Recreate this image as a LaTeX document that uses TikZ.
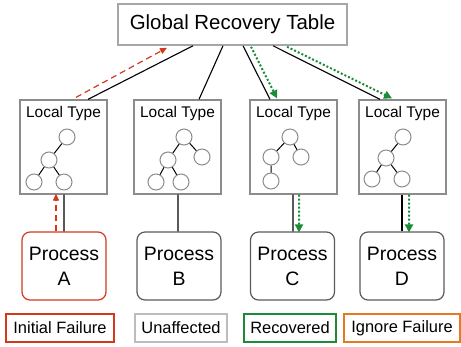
\documentclass[tikz,border=0pt]{standalone}
\usepackage{fontspec}
\setmainfont{Liberation Sans}
\usetikzlibrary{arrows.meta,calc}
\definecolor{gborder}{HTML}{A6A6A6}
\definecolor{lborder}{HTML}{8C8C8C}
\definecolor{pborder}{HTML}{5A5A5A}
\definecolor{redc}{HTML}{D4371C}
\definecolor{greenc}{HTML}{1B8C35}
\definecolor{orangec}{HTML}{E8781E}
\definecolor{ugray}{HTML}{BDBDBD}
\begin{document}
\begin{tikzpicture}[x=1bp,y=-1bp,
  globalbox/.style={draw=gborder,line width=1.5bp,minimum width=229bp,minimum height=41bp,inner sep=0pt,font=\fontsize{20.5}{24}\selectfont},
  localbox/.style={draw=lborder,line width=1.3bp,minimum width=87bp,minimum height=94bp,inner sep=0pt},
  loctext/.style={font=\fontsize{15.5}{18}\selectfont,inner sep=0pt},
  procbox/.style={draw=pborder,line width=1.2bp,rounded corners=8bp,minimum width=84bp,minimum height=68bp,inner sep=0pt,align=center,font=\fontsize{19.5}{25}\selectfont},
  legbox/.style={line width=1.5bp,minimum height=28bp,inner sep=0pt,font=\fontsize{16.5}{20}\selectfont},
  tnode/.style={circle,draw=lborder,fill=white,line width=1bp,minimum size=16bp,inner sep=0pt},
  tedge/.style={black,line width=1bp},
  link/.style={black,line width=1.1bp},
  failarrow/.style={redc,line width=1.2bp,dash pattern=on 6bp off 4bp,-{Triangle[length=7bp,width=6bp]}},
  recarrow/.style={greenc,line width=2bp,dash pattern=on 2bp off 2bp,-{Triangle[length=8bp,width=8bp]}}
]
\useasboundingbox (0,0) rectangle (461,346);

\node[globalbox] (g) at (232.5,24.5) {Global Recovery Table};

\node[localbox] (l1) at (63.5,147) {};
\node[localbox] (l2) at (177.5,147) {};
\node[localbox] (l3) at (293.5,147) {};
\node[localbox] (l4) at (402.5,147) {};
\node[loctext] (lt1) at (63.5,114) {Local Type};
\node[loctext] (lt2) at (177.5,114) {Local Type};
\node[loctext] (lt3) at (293.5,114) {Local Type};
\node[loctext] (lt4) at (402.5,114) {Local Type};

% trees
\node[tnode] (a1) at (67,137) {};
\node[tnode] (a2) at (49,160) {};
\node[tnode] (a3) at (34,182) {};
\node[tnode] (a4) at (64,182) {};
\draw[tedge] (a1) -- (a2) (a2) -- (a3) (a2) -- (a4);

\node[tnode] (b1) at (184,137) {};
\node[tnode] (b2) at (168,160) {};
\node[tnode] (b3) at (202,157) {};
\node[tnode] (b4) at (156,182) {};
\node[tnode] (b5) at (181,182) {};
\draw[tedge] (b1) -- (b2) (b1) -- (b3) (b2) -- (b4) (b2) -- (b5);

\node[tnode] (c1) at (290,137) {};
\node[tnode] (c2) at (271,157) {};
\node[tnode] (c3) at (301,157) {};
\node[tnode] (c4) at (271,181) {};
\draw[tedge] (c1) -- (c2) (c1) -- (c3) (c2) -- (c4);

\node[tnode] (d1) at (403,137) {};
\node[tnode] (d2) at (386,158) {};
\node[tnode] (d3) at (372,179) {};
\node[tnode] (d4) at (402,179) {};
\draw[tedge] (d1) -- (d2) (d2) -- (d3) (d2) -- (d4);

% processes
\node[procbox,draw=redc] (pA) at (64,266) {Process\\A};
\node[procbox] (pB) at (179,266) {Process\\B};
\node[procbox] (pC) at (292.5,266) {Process\\C};
\node[procbox] (pD) at (402,266) {Process\\D};

% legend
\node[legbox,draw=redc,minimum width=108bp] (k1) at (60,328) {Initial Failure};
\node[legbox,draw=ugray,minimum width=92bp] (k2) at (181,328) {Unaffected};
\node[legbox,draw=greenc,minimum width=92bp] (k3) at (290,328) {Recovered};
\node[legbox,draw=orangec,minimum width=116bp] (k4) at (402,328) {Ignore Failure};

% global to local links
\draw[link] ([xshift=-39.5bp]g.south) -- ([xshift=24.5bp]l1.north);
\draw[link] ([xshift=-9.5bp]g.south) -- ([xshift=21.5bp]l2.north);
\draw[link] ([xshift=10.5bp]g.south) -- ([xshift=-23.5bp]l3.north);
\draw[link] ([xshift=40.5bp]g.south) -- ([xshift=-22.5bp]l4.north);

\draw[failarrow] ([xshift=12.5bp,yshift=2bp]l1.north) -- ([xshift=-65.5bp,yshift=-2bp]g.south);
\draw[recarrow] ([xshift=18.5bp,yshift=-1bp]g.south) -- ([xshift=-16.5bp,yshift=1bp]l3.north);
\draw[recarrow] ([xshift=54.5bp,yshift=-1bp]g.south) -- ([xshift=-10.5bp,yshift=1bp]l4.north);

% local to process links
\draw[link] ([xshift=0.5bp]l1.south) -- (pA.north);
\draw[failarrow] ([xshift=-8bp]pA.north) -- ([xshift=-7.5bp,yshift=1bp]l1.south);
\draw[link] ([xshift=0.5bp]l2.south) -- ([xshift=-1bp]pB.north);
\draw[link] ([xshift=-0.5bp]l3.south) -- ([xshift=0.5bp]pC.north);
\draw[recarrow] ([xshift=5.5bp]l3.south) -- ([xshift=6.5bp,yshift=-1bp]pC.north);
\draw[link] ([xshift=-0.5bp]l4.south) -- (pD.north);
\draw[recarrow] ([xshift=6.5bp]l4.south) -- ([xshift=7bp,yshift=-1bp]pD.north);
\end{tikzpicture}
\end{document}
